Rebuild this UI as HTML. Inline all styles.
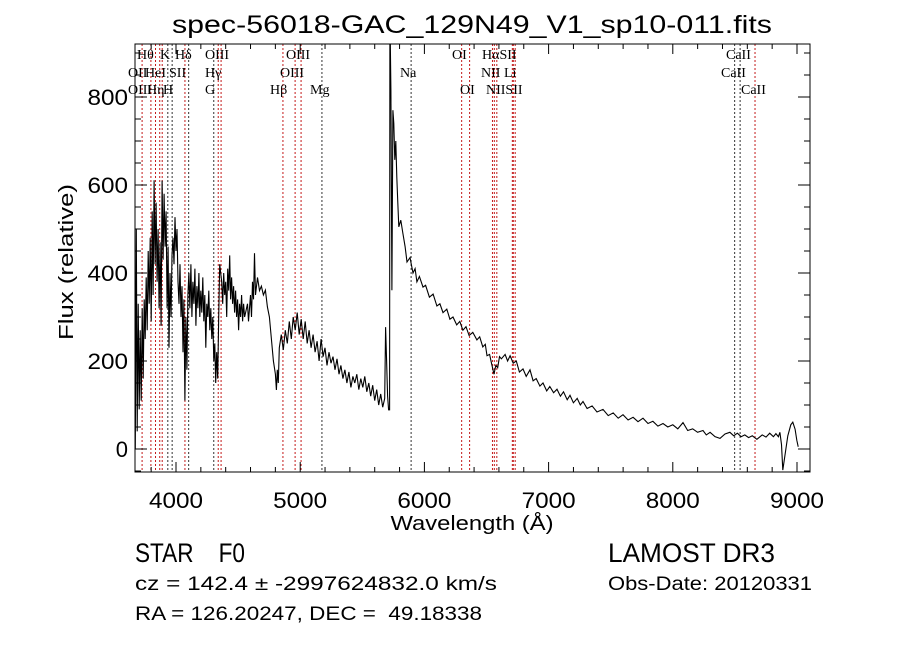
<!DOCTYPE html>
<html><head><meta charset="utf-8"><style>
html,body{margin:0;padding:0;background:#fff;width:900px;height:649px;overflow:hidden}
svg{display:block}
text{font-family:"Liberation Sans",sans-serif;fill:#000;white-space:pre}
.ln{font-family:"Liberation Serif",serif;font-size:14px}
</style></head><body>
<svg id="chart" width="900" height="649" viewBox="0 0 900 649" xmlns="http://www.w3.org/2000/svg" xml:space="preserve">
<rect width="900" height="649" fill="#fff"/>
<text x="472" y="33" font-size="25" text-anchor="middle" textLength="600" lengthAdjust="spacingAndGlyphs">spec-56018-GAC_129N49_V1_sp10-011.fits</text>
<g id="lines"></g>
<g id="labels"></g>
<clipPath id="clip"><rect x="135" y="44" width="675" height="428"/></clipPath>
<path id="spec" clip-path="url(#clip)" fill="none" stroke="#000" stroke-width="1.1"/>
<rect x="135" y="44" width="675" height="428" fill="none" stroke="#000" stroke-width="1"/>
<g id="ticks" stroke="#000" stroke-width="1"></g>
<g id="ticklabels"></g>
<text x="472" y="530" font-size="20" text-anchor="middle" textLength="163" lengthAdjust="spacingAndGlyphs">Wavelength (Å)</text>
<text transform="translate(73,262) rotate(-90)" font-size="20" text-anchor="middle" textLength="156" lengthAdjust="spacingAndGlyphs">Flux (relative)</text>
<text x="135" y="562" font-size="27" textLength="110" lengthAdjust="spacingAndGlyphs">STAR    F0</text>
<text x="608" y="562" font-size="27" textLength="167" lengthAdjust="spacingAndGlyphs">LAMOST DR3</text>
<text x="135" y="590" font-size="19" textLength="362" lengthAdjust="spacingAndGlyphs">cz = 142.4 ± -2997624832.0 km/s</text>
<text x="608" y="590" font-size="19" textLength="204" lengthAdjust="spacingAndGlyphs">Obs-Date: 20120331</text>
<text x="135" y="620" font-size="19" textLength="347" lengthAdjust="spacingAndGlyphs">RA = 126.20247, DEC =  49.18338</text>
</svg>
<script>
const wavelengths = [3672,3680,3688,3696,3704,3712,3720,3728,3736,3744,3752,3760,3768,3776,3784,3792,3800,3808,3816,3824,3832,3840,3848,3856,3864,3872,3880,3888,3896,3904,3912,3920,3928,3936,3944,3952,3960,3968,3976,3984,3992,4000,4008,4016,4024,4032,4040,4048,4056,4064,4072,4080,4088,4096,4104,4112,4120,4128,4136,4144,4152,4160,4168,4176,4184,4192,4200,4208,4216,4224,4232,4240,4248,4256,4264,4272,4280,4288,4296,4304,4312,4320,4328,4336,4344,4352,4360,4368,4376,4384,4392,4400,4408,4416,4424,4432,4440,4448,4456,4464,4472,4480,4488,4496,4504,4512,4520,4528,4536,4544,4552,4560,4576,4584,4600,4608,4616,4624,4632,4640,4656,4672,4688,4704,4720,4736,4752,4768,4784,4800,4808,4816,4824,4832,4848,4864,4880,4896,4912,4928,4944,4960,4976,4992,5008,5024,5040,5056,5072,5088,5104,5120,5136,5152,5168,5184,5200,5216,5232,5248,5264,5280,5296,5312,5328,5344,5360,5376,5392,5408,5424,5440,5456,5472,5488,5504,5520,5536,5552,5568,5584,5600,5616,5632,5648,5664,5680,5688,5696,5704,5712,5720,5722,5730,5738,5746,5754,5762,5770,5778,5786,5794,5810,5827,5845,5860,5884,5908,5925,5940,5960,5989,6010,6040,6070,6101,6125,6150,6180,6205,6230,6260,6285,6310,6335,6360,6390,6423,6445,6470,6490,6504,6525,6540,6560,6575,6590,6605,6620,6650,6670,6690,6715,6740,6765,6794,6820,6850,6875,6900,6930,6955,6985,7010,7040,7068,7095,7120,7150,7172,7200,7230,7255,7277,7310,7350,7390,7438,7480,7520,7560,7599,7640,7680,7720,7760,7800,7840,7880,7921,7960,8000,8040,8082,8120,8160,8200,8243,8270,8300,8340,8380,8420,8460,8490,8520,8550,8580,8610,8640,8677,8720,8750,8780,8810,8830,8850,8862,8875,8886,8900,8926,8950,8966,8985,8998,9010];
const fluxes = [0,500,40,330,90,270,110,320,160,340,250,390,270,450,330,480,290,540,350,611,420,560,380,500,320,470,280,610,430,580,460,540,320,460,230,400,300,440,480,420,527,450,500,380,330,420,300,370,220,340,110,300,180,350,400,320,420,300,380,330,410,280,370,320,400,300,360,310,390,290,350,230,330,300,360,270,320,250,300,200,240,150,220,160,300,420,400,380,330,400,350,380,300,410,360,440,340,390,330,370,310,360,300,340,270,330,300,350,290,330,300,310,330,290,350,300,380,340,445,350,390,360,370,350,361,323,300,250,200,170,134,180,150,230,260,225,270,240,290,250,300,270,310,260,295,250,290,240,270,230,260,220,245,200,250,210,230,190,220,195,210,180,205,170,190,160,180,150,175,140,165,150,170,135,160,140,165,130,150,120,145,110,135,100,125,95,115,277,200,120,89,89,1000,816,361,770,740,657,700,618,560,505,520,490,460,425,435,400,410,380,392,368,372,345,352,325,330,310,318,295,300,282,290,270,278,258,265,248,255,232,238,212,215,195,170,190,185,210,205,215,200,212,195,200,175,182,165,180,155,160,143,150,132,142,128,136,120,130,112,122,105,115,100,108,92,98,84,90,76,82,70,78,66,72,62,70,58,63,52,58,50,55,46,60,42,46,38,42,32,38,28,24,34,38,30,36,28,32,26,30,22,32,27,36,28,35,28,38,10,-48,-20,30,55,61,45,20,5];
const xTicks = [4000,5000,6000,7000,8000,9000];
const yTicks = [0,200,400,600,800];
const lineWaves = [3727,3798,3835,3869,3889,3934,3969,4072,4102,4304,4340,4363,4861,4959,5007,5175,5893,6300,6364,6548,6563,6583,6708,6716,6731,8498,8542,8662];
const lineLabels = [["Hθ",137,59],["K",160,59],["Hδ",175,59],["OIII",205,59],["OIII",286,59],["OI",452,59],["HαSII",482,59],["CaII",726,59],["OII",128,77],["HeI",145,77],["SII",169,77],["Hγ",205,77],["OIII",280,77],["Na",400,77],["NII",481,77],["Li",504,77],["CaII",721,77],["OIII",128,94],["Hη",147,94],["H",163,94],["G",205,94],["Hβ",270,94],["Mg",310,94],["OI",460,94],["NIISII",486,94],["CaII",741,94]];
const darkLines = [3934,3969,4102,4304,5175,5893,8498,8542];

const X0=135,X1=810,Y0=44,Y1=472;
function xs(w){return 176+(w-4000)*0.1242;}
function ys(f){return 449-f*0.44;}
const NS="http://www.w3.org/2000/svg";

let d='';
for(let i=0;i<wavelengths.length;i++){d+=(i?'L':'M')+xs(wavelengths[i]).toFixed(1)+' '+ys(fluxes[i]).toFixed(1);}
document.getElementById('spec').setAttribute('d',d);

const lg=document.getElementById('lines');
lineWaves.forEach(w=>{
  const l=document.createElementNS(NS,'line');
  
  
  const x=xs(w);
  l.setAttribute('x1',x);l.setAttribute('x2',x);l.setAttribute('y1',Y0);l.setAttribute('y2',Y1);
  l.setAttribute('stroke',darkLines.includes(w)?'#333':'#c41a1a');
  l.setAttribute('stroke-width','1');l.setAttribute('stroke-dasharray','2,2');
  lg.appendChild(l);
});
const lb=document.getElementById('labels');
lineLabels.forEach(a=>{
  const t=document.createElementNS(NS,'text');
  
  
  t.setAttribute('class','ln');t.setAttribute('x',a[1]);t.setAttribute('y',a[2]);
  t.textContent=a[0];lb.appendChild(t);
});
const tg=document.getElementById('ticks');
function tick(x1,y1,x2,y2){const l=document.createElementNS(NS,'line');
  
  
  l.setAttribute('x1',x1);l.setAttribute('y1',y1);l.setAttribute('x2',x2);l.setAttribute('y2',y2);tg.appendChild(l);}
for(let w=3800;w<=9100;w+=200){const x=xs(w);const major=w%1000===0;const L=major?10:5;
  if(x<X0||x>X1)continue;tick(x,Y1,x,Y1-L);tick(x,Y0,x,Y0+L);}
for(let f=-50;f<=900;f+=50){const y=ys(f);if(y<Y0||y>Y1)continue;const L=f%200===0?12:6;
  tick(X0,y,X0+L,y);tick(X1,y,X1-L,y);}
const tl=document.getElementById('ticklabels');
xTicks.forEach(w=>{const t=document.createElementNS(NS,'text');
  
  
  t.setAttribute('x',xs(w));t.setAttribute('y',508);t.setAttribute('font-size','22');
  t.setAttribute('text-anchor','middle');t.setAttribute('textLength','54');t.setAttribute('lengthAdjust','spacingAndGlyphs');
  t.textContent=w;tl.appendChild(t);});
yTicks.forEach(f=>{const t=document.createElementNS(NS,'text');
  
  
  t.setAttribute('x',128);t.setAttribute('y',ys(f)+8);t.setAttribute('font-size','22');
  t.setAttribute('text-anchor','end');
  if(String(f).length>1){t.setAttribute('textLength',String(f).length*13.5);t.setAttribute('lengthAdjust','spacingAndGlyphs');}
  t.textContent=f;tl.appendChild(t);});
</script>
</body></html>
